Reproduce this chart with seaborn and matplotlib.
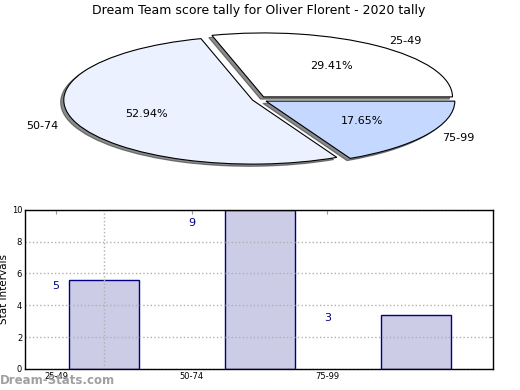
import seaborn as sns
import matplotlib.pyplot as plt
import pandas as pd

# data
ranges = ["25-49", "50-74", "75-99"]
counts = [5, 9, 3]
pie_colors = ["#ffffff", "#ebf1ff", "#c5d8ff"]
bar_heights = [5.6, 10.0, 3.4]
bar_pos = [0.35, 1.5, 2.65]
tick_pos = [0, 1, 2]

sns.set_style("white")
plt.rcParams["font.family"] = ["DejaVu Sans"]
plt.rcParams["text.color"] = "black"
plt.rcParams["axes.labelcolor"] = "black"
plt.rcParams["xtick.labelcolor"] = "black"
plt.rcParams["ytick.labelcolor"] = "black"

fig = plt.figure(figsize=(5.2, 3.9), dpi=100)

# pie on top
ax_pie = fig.add_axes([0.042, 0.54, 0.908, 0.41])
wedges, texts, autotexts = ax_pie.pie(
    counts,
    labels=ranges,
    colors=pie_colors,
    explode=[0.05, 0.03, 0.05],
    autopct="%.2f%%",
    startangle=0,
    shadow={"ox": -0.012, "oy": -0.025, "shade": 0.9},
    wedgeprops={"edgecolor": "black", "linewidth": 0.8},
    textprops={"fontsize": 8, "color": "black"},
)
ax_pie.set_aspect("auto")
ax_pie.set_xlim(-1.25, 1.25)
ax_pie.set_ylim(-1.25, 1.25)
fig.text(0.497, 0.972, "Dream Team score tally for Oliver Florent - 2020 tally",
         ha="center", va="center", fontsize=9, color="black")

# bar chart below
ax_bar = fig.add_axes([0.048, 0.054, 0.9, 0.408])
df = pd.DataFrame({"pos": bar_pos, "height": bar_heights})
sns.barplot(data=df, x="pos", y="height", native_scale=True, width=0.45,
            color="#ccccE6", edgecolor="#000080", linewidth=1, saturation=1,
            ax=ax_bar)

for x, c in zip(tick_pos, counts):
    ax_bar.text(x, c + 0.2, str(c), ha="center", va="center",
                color="#000080", fontsize=8)

ax_bar.set_xlim(-0.23, 3.22)
ax_bar.set_ylim(0, 10)
ax_bar.set_xticks(tick_pos)
ax_bar.set_xticklabels(ranges)
ax_bar.set_xticks([bar_pos[0], 1, 2], minor=True)
ax_bar.set_yticks(range(0, 11, 2))
ax_bar.tick_params(axis="both", which="major", direction="in", length=3,
                   color="#999999", labelsize=6, top=True, right=True, pad=2)
ax_bar.tick_params(axis="x", which="minor", length=0)
ax_bar.grid(axis="y", which="major", linestyle=":", color="#b0b0b0", linewidth=1)
ax_bar.grid(axis="x", which="minor", linestyle=":", color="#b0b0b0", linewidth=1)
ax_bar.set_axisbelow(False)
ax_bar.set_xlabel("")
ax_bar.set_ylabel("Stat Intervals", fontsize=7.5, labelpad=2)
for s in ax_bar.spines.values():
    s.set_color("black")
    s.set_linewidth(1)
    s.set_zorder(10)

fig.text(0.0, 0.025, "Dream-Stats.com", color="#a0a0a0", fontsize=8.5,
         fontweight="bold", ha="left", va="center")

fig.savefig("out.png", dpi=100)
